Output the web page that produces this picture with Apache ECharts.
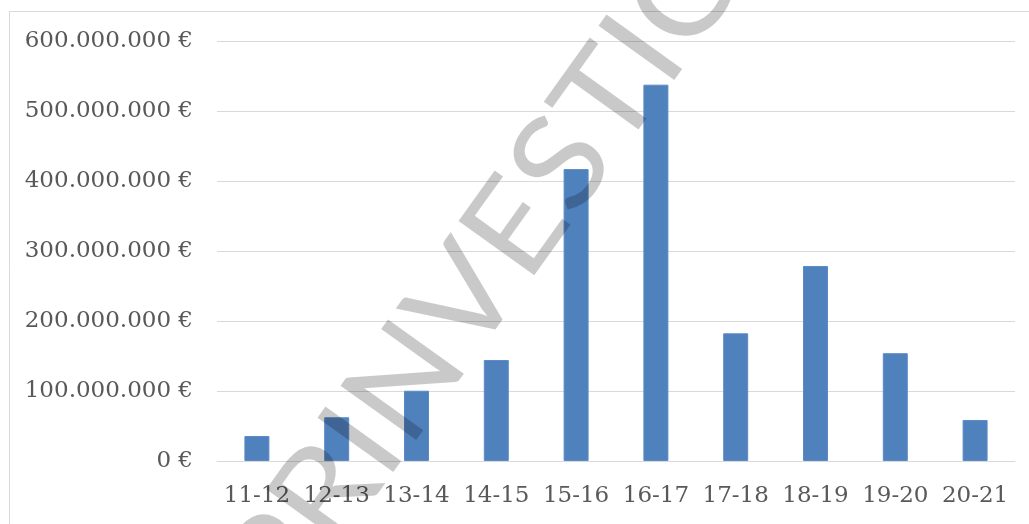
<!DOCTYPE html>
<html>
<head>
<meta charset="utf-8">
<script src="https://cdn.jsdelivr.net/npm/echarts@6/dist/echarts.min.js"></script>
<style>
html,body{margin:0;padding:0;background:#fff;}
#chart{width:1029px;height:524px;}
</style>
</head>
<body>
<div id="chart"></div>
<script>
var categories = ['11-12','12-13','13-14','14-15','15-16','16-17','17-18','18-19','19-20','20-21'];
var values = [35700000, 62500000, 100400000, 144300000, 417000000, 537600000, 182400000, 278600000, 154000000, 58600000];
var yTicks = [0, 100000000, 200000000, 300000000, 400000000, 500000000, 600000000];
var watermark = 'PRINVESTIC';

function fmtEuro(v) {
  var s = String(Math.round(v));
  return s.replace(/\B(?=(\d{3})+(?!\d))/g, '.') + ' €';
}

// Watermark placement: fit the text so its two "I" letters land where they sit in the reference.
var wmFam = '"Lato", "Liberation Sans", sans-serif', wmWeight = 400;
var I1 = [359, 439], I2 = [640, 47], capTarget = 95;
var ctx = document.createElement('canvas').getContext('2d');
ctx.font = wmWeight + ' 100px ' + wmFam;
var cap100 = ctx.measureText('I').actualBoundingBoxAscent;
var wmSize = capTarget / cap100 * 100;
ctx.font = wmWeight + ' ' + wmSize + 'px ' + wmFam;
var wI = ctx.measureText('I').width;
var aW = ctx.measureText('PR').width;
var bW = ctx.measureText('PRINVEST').width;
ctx.textBaseline = 'middle';
var mI = ctx.measureText('I');
var capC = (mI.actualBoundingBoxAscent - mI.actualBoundingBoxDescent) / 2;
var dx = I2[0] - I1[0], dy = I1[1] - I2[1];
var theta = Math.atan2(dy, dx);
var D = Math.sqrt(dx * dx + dy * dy);
var sx = D / (bW - aW);
var L1 = (aW + wI / 2) * sx;
var ox = I1[0] - (L1 * Math.cos(theta) - capC * Math.sin(theta));
var oy = I1[1] - (-L1 * Math.sin(theta) - capC * Math.cos(theta));

var chart = echarts.init(document.getElementById('chart'), null, {renderer: 'canvas'});
chart.setOption({
  animation: false,
  backgroundColor: '#ffffff',
  grid: {left: 217, right: 14, top: 41, bottom: 63},
  xAxis: {
    type: 'category',
    data: categories,
    axisLine: {lineStyle: {color: '#d9d9d9', width: 1}},
    axisTick: {show: false},
    axisLabel: {color: '#595959', fontFamily: 'DejaVu Serif', fontSize: 23, margin: 24, interval: 0}
  },
  yAxis: {
    type: 'value',
    min: yTicks[0],
    max: yTicks[yTicks.length - 1],
    interval: yTicks[1] - yTicks[0],
    axisLine: {show: false},
    axisTick: {show: false},
    splitLine: {lineStyle: {color: '#d9d9d9', width: 1}},
    axisLabel: {color: '#595959', fontFamily: 'DejaVu Serif', fontSize: 23, margin: 24, formatter: fmtEuro}
  },
  series: [{
    type: 'bar',
    data: values,
    barWidth: 25,
    itemStyle: {color: '#4F81BD', borderColor: '#5a8bc6', borderWidth: 1}
  }],
  graphic: [
    {
      type: 'rect',
      shape: {x: 9.5, y: 11.5, width: 1040, height: 540},
      style: {fill: 'none', stroke: '#d9d9d9', lineWidth: 1},
      silent: true,
      z: 50
    },
    {
      type: 'text',
      x: ox, y: oy,
      rotation: theta,
      scaleX: sx,
      style: {
        text: watermark,
        font: wmWeight + ' ' + wmSize + 'px ' + wmFam,
        fill: 'rgba(0,0,0,0.21)',
        align: 'left',
        verticalAlign: 'middle'
      },
      silent: true,
      z: 100
    }
  ]
});
</script>
</body>
</html>
